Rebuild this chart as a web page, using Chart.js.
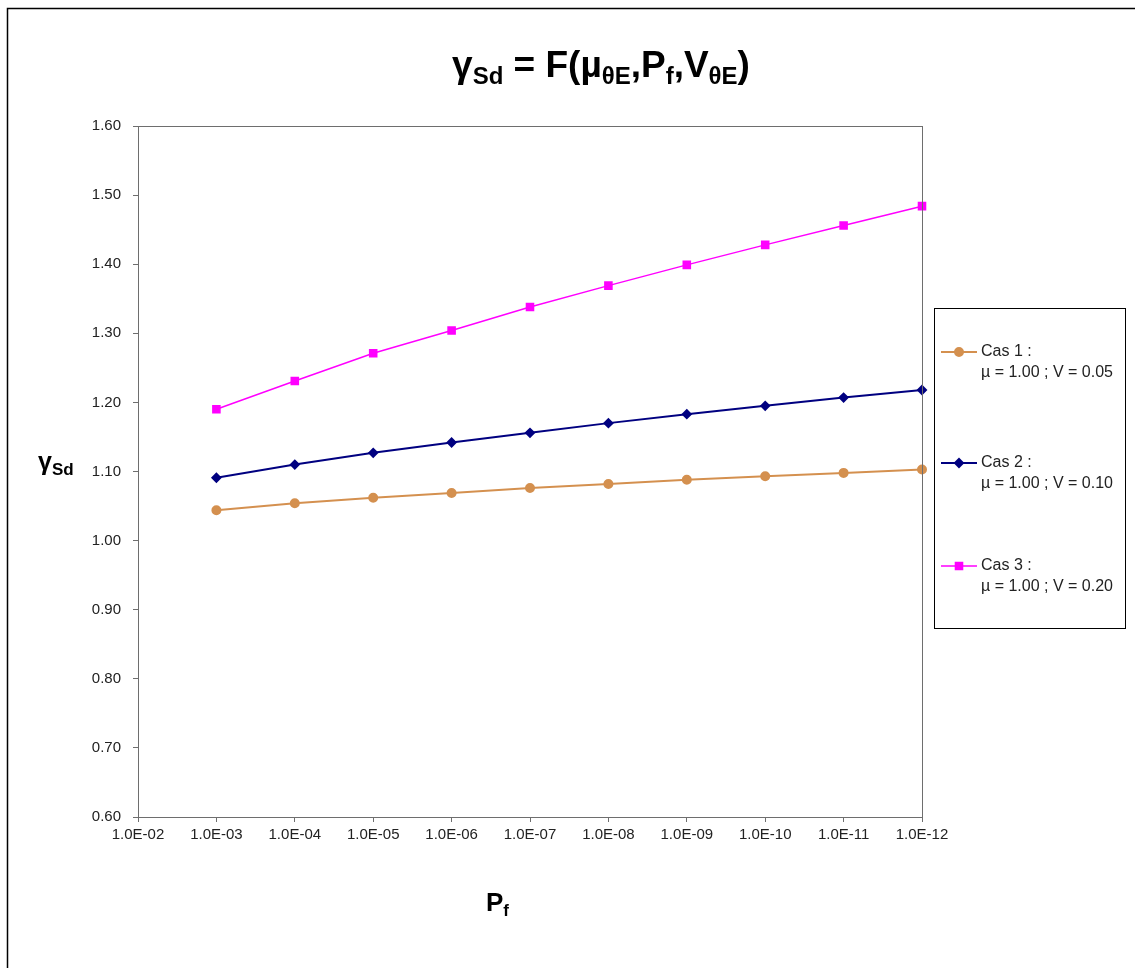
<!DOCTYPE html>
<html>
<head>
<meta charset="utf-8">
<title>gamma Sd</title>
<script src="https://cdn.jsdelivr.net/npm/chart.js@4.4.0/dist/chart.umd.min.js"></script>
<style>
  html, body { margin: 0; padding: 0; background: #fff; }
  #wrap { width: 1135px; height: 968px; position: relative; }
</style>
</head>
<body>
<div id="wrap"><canvas id="chart" width="1135" height="968"></canvas></div>
<script>
// categories (Pf) and series values
const categories = ['1.0E-02', '1.0E-03', '1.0E-04', '1.0E-05', '1.0E-06', '1.0E-07',
  '1.0E-08', '1.0E-09', '1.0E-10', '1.0E-11', '1.0E-12'];
const cas1 = [null, 1.044, 1.054, 1.062, 1.069, 1.076, 1.082, 1.088, 1.093, 1.098, 1.103];
const cas2 = [null, 1.091, 1.110, 1.127, 1.142, 1.156, 1.170, 1.183, 1.195, 1.207, 1.218];
const cas3 = [null, 1.190, 1.231, 1.271, 1.304, 1.338, 1.369, 1.399, 1.428, 1.456, 1.484];
const seriesNames = ['Cas 1 :', 'Cas 2 :', 'Cas 3 :'];
const seriesNotes = ['\u00b5 = 1.00 ; V = 0.05', '\u00b5 = 1.00 ; V = 0.10', '\u00b5 = 1.00 ; V = 0.20'];
const yMin = 0.6, yMax = 1.6, yStep = 0.1;

const FONT = "'Liberation Sans', Arial, sans-serif";
const colors = ['#D4904F', '#000080', '#FF00FF'];

// text with subscripts: parts = [[text, isSub], ...]
function drawRich(ctx, parts, x, y, size, subSize, align) {
  ctx.save();
  ctx.fillStyle = '#000';
  ctx.textBaseline = 'alphabetic';
  ctx.textAlign = 'left';
  let total = 0;
  parts.forEach(p => {
    ctx.font = 'bold ' + (p[1] ? subSize : size) + 'px ' + FONT;
    total += ctx.measureText(p[0]).width;
  });
  let cx = align === 'center' ? x - total / 2 : x;
  parts.forEach(p => {
    ctx.font = 'bold ' + (p[1] ? subSize : size) + 'px ' + FONT;
    ctx.fillText(p[0], cx, p[1] ? y + size * 0.18 : y);
    cx += ctx.measureText(p[0]).width;
  });
  ctx.restore();
}

const decorPlugin = {
  id: 'decor',
  afterDraw(chart) {
    const ctx = chart.ctx;
    const a = chart.chartArea;

    // outer frame (only left/top visible in the picture)
    ctx.save();
    ctx.strokeStyle = '#000';
    ctx.lineWidth = 1.5;
    ctx.strokeRect(7.5, 8.5, 1300, 1300);

    // plot area box
    ctx.strokeStyle = '#6e6e6e';
    ctx.lineWidth = 1;
    ctx.strokeRect(Math.round(a.left) + 0.5, Math.round(a.top) + 0.5,
      Math.round(a.right - a.left), Math.round(a.bottom - a.top));
    ctx.restore();

    // titles
    drawRich(ctx, [['\u03b3', false], ['Sd', true], [' = F(\u00b5', false], ['\u03b8E', true],
      [',P', false], ['f', true], [',V', false], ['\u03b8E', true], [')', false]],
      601, 77, 37, 24, 'center');
    drawRich(ctx, [['\u03b3', false], ['Sd', true]], 38, 470, 25, 17, 'left');
    drawRich(ctx, [['P', false], ['f', true]], 486, 911, 26, 17, 'left');

    // legend box
    ctx.save();
    ctx.strokeStyle = '#000';
    ctx.lineWidth = 1;
    ctx.strokeRect(934.5, 308.5, 191, 320);
    const rowY = [352, 463, 566];
    chart.data.datasets.forEach((ds, i) => {
      const y = rowY[i];
      ctx.strokeStyle = ds.borderColor;
      ctx.lineWidth = ds.borderWidth;
      ctx.beginPath();
      ctx.moveTo(941, y);
      ctx.lineTo(977, y);
      ctx.stroke();
      ctx.fillStyle = ds.pointBackgroundColor;
      ctx.strokeStyle = ds.pointBorderColor;
      Chart.helpers.drawPoint(ctx, {
        pointStyle: ds.pointStyle, radius: ds.pointRadius, rotation: 0, borderWidth: 1
      }, 959, y);
      ctx.fillStyle = '#222';
      ctx.font = '16px ' + FONT;
      ctx.textBaseline = 'middle';
      ctx.textAlign = 'left';
      ctx.fillText(seriesNames[i], 981, y);
      ctx.fillText(seriesNotes[i], 981, y + 21);
    });
    ctx.restore();
  }
};

const tickColor = '#222';

new Chart(document.getElementById('chart'), {
  type: 'line',
  data: {
    labels: categories,
    datasets: [
      {
        label: seriesNames[0] + ' ' + seriesNotes[0], data: cas1,
        borderColor: colors[0], backgroundColor: colors[0],
        pointBackgroundColor: colors[0], pointBorderColor: colors[0],
        borderWidth: 2, pointStyle: 'circle', pointRadius: 4, tension: 0
      },
      {
        label: seriesNames[1] + ' ' + seriesNotes[1], data: cas2,
        borderColor: colors[1], backgroundColor: colors[1],
        pointBackgroundColor: colors[1], pointBorderColor: colors[1],
        borderWidth: 2, pointStyle: 'rectRot', pointRadius: 4, tension: 0
      },
      {
        label: seriesNames[2] + ' ' + seriesNotes[2], data: cas3,
        borderColor: colors[2], backgroundColor: colors[2],
        pointBackgroundColor: colors[2], pointBorderColor: colors[2],
        borderWidth: 1.5, pointStyle: 'rect', pointRadius: 5, tension: 0
      }
    ]
  },
  options: {
    responsive: false,
    animation: false,
    layout: { padding: { left: 0, right: 213, top: 126, bottom: 111 } },
    plugins: {
      legend: { display: false },
      title: { display: false },
      tooltip: { enabled: false }
    },
    scales: {
      x: {
        type: 'category',
        offset: false,
        afterFit: scale => { scale.height = 40; },
        grid: { display: true, drawOnChartArea: false, drawTicks: true, tickLength: 5, color: '#6e6e6e' },
        border: { display: true, color: '#6e6e6e' },
        ticks: { color: tickColor, font: { family: FONT, size: 15 }, maxRotation: 0, autoSkip: false, padding: 4 }
      },
      y: {
        min: yMin,
        max: yMax,
        afterFit: scale => { scale.width = 138; },
        grid: { display: true, drawOnChartArea: false, drawTicks: true, tickLength: 5, color: '#6e6e6e' },
        border: { display: true, color: '#6e6e6e' },
        ticks: {
          stepSize: yStep,
          color: tickColor,
          font: { family: FONT, size: 15 },
          padding: 12,
          callback: v => Number(v).toFixed(2)
        }
      }
    }
  },
  plugins: [decorPlugin]
});
</script>
</body>
</html>
